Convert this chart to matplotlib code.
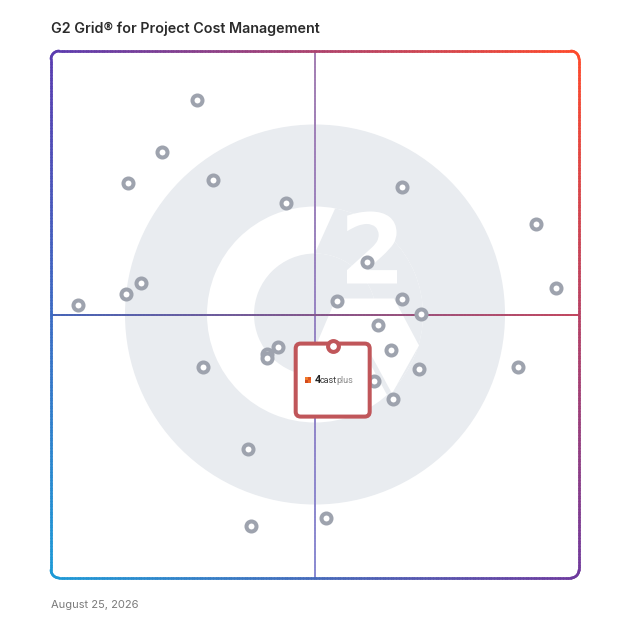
import numpy as np
import matplotlib
matplotlib.use("Agg")
import matplotlib.pyplot as plt
from matplotlib.collections import LineCollection
from matplotlib.patches import Circle, Wedge, Polygon, FancyBboxPatch, PathPatch, Rectangle
from matplotlib.textpath import TextPath
from matplotlib.font_manager import FontProperties
import matplotlib.transforms as mtransforms
from matplotlib.colors import to_rgb

# ---------------- data ----------------
title = "G2 Grid\u00ae for Project Cost Management"
date_label = "August 25, 2026"

# Satisfaction (x) and Market Presence (y) on a 0-100 scale
products_x = [27.7, 21.0, 14.5, 30.6, 44.5, 66.5, 91.9, 59.8, 95.6, 17.1,
              14.2, 5.1, 54.1, 66.4, 70.0, 62.0, 42.9, 41.0, 41.0, 64.4,
              28.8, 69.7, 88.4, 61.2, 64.8, 37.4, 37.9, 52.0]
products_y = [90.7, 80.9, 74.9, 75.5, 71.1, 74.1, 67.2, 59.9, 55.0, 55.9,
              53.8, 51.8, 52.5, 52.9, 50.1, 48.1, 43.8, 42.5, 41.8, 43.3,
              40.1, 39.6, 40.1, 37.3, 34.0, 24.5, 9.9, 11.3]
highlight_name = "4castplus"
highlight_x = [53.35]
highlight_y = [44.1]
axis_min, axis_mid, axis_max = 0, 50, 100

# ---------------- figure ----------------
W = H = 628
fig = plt.figure(figsize=(6.28, 6.28), dpi=100)
fig.patch.set_facecolor("white")

bg = fig.add_axes([0, 0, 1, 1], zorder=0)
bg.set_xlim(0, W)
bg.set_ylim(H, 0)
bg.axis("off")

L, T, R, B = 51, 51, 579, 578
ax = fig.add_axes([L / W, 1 - B / H, (R - L) / W, (B - T) / H], zorder=1)
ax.set_xlim(axis_min, axis_max)
ax.set_ylim(axis_min, axis_max)
ax.axis("off")
ax.patch.set_alpha(0)

# ---------------- G2 watermark ----------------
GRAY = "#e9ecf0"
cx, cy = (L + R) / 2, (T + B) / 2
bg.add_patch(Circle((cx, cy), 190, fc=GRAY, ec="none"))
ring = Wedge((cx, cy), 108, 0, 360, width=47, fc="white", ec="none")
bg.add_patch(ring)

d1 = np.array([-21.7, 48.0]); p1 = np.array([cx + 21.7, cy - 109.5])
d2 = np.array([26.0, 48.0]);  p2 = np.array([cx + 45.0, cy + 30.5])
t, u = np.linalg.solve(np.column_stack([d1, -d2]), p2 - p1)
V = p1 + t * d1
opening = Polygon([V, V - 6 * d1, V - 6 * d1 + [400, 0], V + 8 * d2 + [400, 0], V + 8 * d2],
                  closed=True, fc=GRAY, ec="none")
bg.add_patch(opening)
opening.set_clip_path(ring)

chev = np.array([[21, -16], [79, -16], [104, 31], [77, 79], [51, 31], [1, 31]], float)
bg.add_patch(Polygon(chev + [cx, cy], closed=True, fc="white", ec="none"))

fp = FontProperties(family="DejaVu Sans", weight="bold")
tp = TextPath((0, 0), "2", size=100, prop=fp)
ext = tp.get_extents()
x0, x1, y0, y1 = cx + 32, cx + 82, cy - 103, cy - 31
tr = (mtransforms.Affine2D().translate(-ext.x0, -ext.y0)
      .scale((x1 - x0) / ext.width, -(y1 - y0) / ext.height).translate(x0, y1))
bg.add_patch(PathPatch(tr.transform_path(tp), fc="white", ec="none"))

# ---------------- gradient helpers ----------------
TL, TR_, BL, BR = (np.array(to_rgb(c)) for c in ("#5b3cb0", "#ff4a2b", "#1d9bd7", "#6e3a9e"))


def bilinear(uu, vv):
    top = (1 - uu) * TL + uu * TR_
    bot = (1 - uu) * BL + uu * BR
    return np.clip(vv * top + (1 - vv) * bot, 0, 1)


def rounded_rect(x0, y0, x1, y1, r):
    pts = []
    corners = [((x1 - r, y1 - r), 0, 90), ((x0 + r, y1 - r), 90, 180),
               ((x0 + r, y0 + r), 180, 270), ((x1 - r, y0 + r), 270, 360)]
    for (ccx, ccy), a0, a1 in corners:
        a = np.radians(np.linspace(a0, a1, 12))
        pts.append(np.column_stack([ccx + r * np.cos(a), ccy + r * np.sin(a)]))
    pts.append(pts[0][:1])
    pts = np.vstack(pts)
    dense = [pts[0]]
    for a, b in zip(pts[:-1], pts[1:]):
        k = max(1, int(np.hypot(*(b - a)) / 0.5))
        for s in np.linspace(0, 1, k + 1)[1:]:
            dense.append(a + s * (b - a))
    return np.array(dense)


def gradient_line(axh, pts, colors, lw, z):
    segs = np.stack([pts[:-1], pts[1:]], axis=1)
    lc = LineCollection(segs, colors=colors, linewidths=lw, zorder=z, clip_on=False)
    lc.set_capstyle("round")
    axh.add_collection(lc)


# crosshair
n = 200
vy = np.linspace(axis_min, axis_max, n)
vpts = np.column_stack([np.full(n, axis_mid), vy])
c_bot, c_top = np.array(to_rgb("#8a8ad2")), np.array(to_rgb("#a47fb3"))
vcols = [(1 - s) * c_bot + s * c_top for s in np.linspace(0, 1, n - 1)]
gradient_line(ax, vpts, vcols, 1.4, 1)

hx = np.linspace(axis_min, axis_max, n)
hpts = np.column_stack([hx, np.full(n, axis_mid)])
c_l, c_r = np.array(to_rgb("#4564b8")), np.array(to_rgb("#c2475f"))
hcols = [(1 - s) * c_l + s * c_r for s in np.linspace(0, 1, n - 1)]
gradient_line(ax, hpts, hcols, 1.4, 1)

# border
bpts = rounded_rect(axis_min, axis_min, axis_max, axis_max, 1.55)
mids = (bpts[:-1] + bpts[1:]) / 2
bcols = [bilinear(m[0] / 100, m[1] / 100) for m in mids]
gradient_line(ax, bpts, bcols, 1.9, 2)

# ---------------- products ----------------
ax.plot(products_x, products_y, linestyle="none", marker="o", ms=7.2, mew=2.9,
        mfc="white", mec="#9ea3ae", zorder=3, clip_on=False)

# highlighted product box
RED = "#c0565a"
hx0, hy0 = highlight_x[0], highlight_y[0]
off = fig.dpi_scale_trans + mtransforms.ScaledTranslation(hx0, hy0, ax.transData)
box = FancyBboxPatch((-0.37, -0.71), 0.74, 0.73,
                     boxstyle="round,pad=0,rounding_size=0.05",
                     transform=off, fc="white", ec=RED, lw=2.9, zorder=4, clip_on=False)
ax.add_patch(box)
ax.plot(highlight_x, highlight_y, linestyle="none", marker="o", ms=7.8, mew=2.9,
        mfc="white", mec=RED, zorder=5, clip_on=False)

# logo inside box
sq = 0.029
icon_cols = ["#f07a2c", "#dc5520", "#d24a1c", "#ee6a26"]
for i, (ix, iy) in enumerate([(0, 1), (1, 1), (0, 0), (1, 0)]):
    ax.add_patch(Rectangle((-0.279 + ix * (sq + 0.008), -0.378 + iy * (sq + 0.008)), sq, sq,
                           transform=off, fc=icon_cols[i], ec="none", zorder=6, clip_on=False))
ax.text(-0.183, -0.372, "4", transform=off, fontsize=7.8, fontweight="bold", color="#222222",
        family="Roboto", ha="left", va="baseline", zorder=6)
ax.text(-0.127, -0.372, "cast", transform=off, fontsize=6.5, color="#3c3c3c",
        family="Roboto", ha="left", va="baseline", zorder=6)
ax.text(0.040, -0.372, "plus", transform=off, fontsize=6.5, color="#8a8a8a",
        family="Roboto", ha="left", va="baseline", zorder=6)

# ---------------- texts ----------------
fig.text(L / W, 1 - 29 / H, title, fontsize=10.3, fontweight="semibold", family="Inter",
         color="#2b2b2b", ha="left", va="center")
fig.text(L / W, 1 - 605 / H, date_label, fontsize=8, family="Inter", color="#7a7a7a",
         ha="left", va="center")

fig.savefig("out.png", dpi=100, facecolor="white")
